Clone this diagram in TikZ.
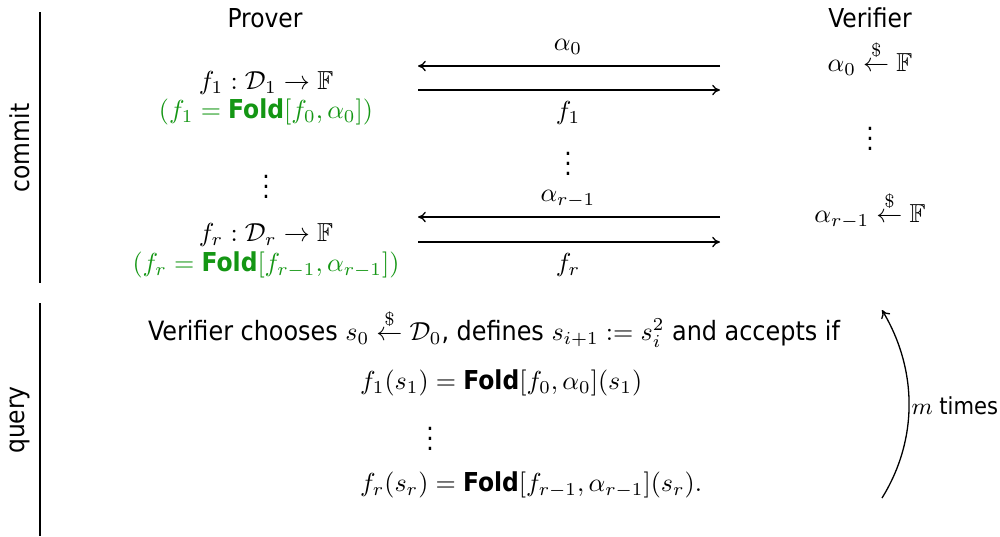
\documentclass[tikz,border=0pt]{standalone}
\usepackage{amsmath,amssymb}
\usepackage[no-math]{fontspec}
\setmainfont{DejaVu Sans Condensed}[BoldFont={DejaVu Sans Condensed Bold}]
\usetikzlibrary{arrows.meta}
\definecolor{foldgreen}{RGB}{20,150,20}
\newcommand{\Fold}{\textbf{Fold}}
\newcommand{\sample}{\overset{\$}{\leftarrow}}
\tikzset{
  lbl/.style={inner sep=1pt, font=\fontsize{10}{12}\selectfont},
  msg/.style={line width=0.5pt, -{To[length=3pt,width=4pt]}},
  rule/.style={line width=0.5pt},
  green/.style={lbl, text=foldgreen}
}
\begin{document}
\begin{tikzpicture}[x=0.384pt,y=-0.384pt]
\useasboundingbox (0,0) rectangle (1000,536);
% section rules
\coordinate (c1) at (40,12); \coordinate (c2) at (40,283);
\coordinate (q1) at (40,303); \coordinate (q2) at (40,536);
\draw[rule] (c1) -- (c2);
\draw[rule] (q1) -- (q2);
\node[lbl, rotate=90] (commit) at (20,148) {commit};
\node[lbl, rotate=90] (query) at (20,420) {query};
% headers
\node[lbl] (prover) at (265,18) {Prover};
\node[lbl] (verifier) at (870,18) {Verifier};
% prover side
\node[lbl] (p1) at (266,83) {$f_1 : \mathcal{D}_1 \to \mathbb{F}$};
\node[green] (p1g) at (266,112) {$(f_1 = \text{\Fold}[f_0,\alpha_0])$};
\node[lbl] (pdots) at (266,179) {$\vdots$};
\node[lbl] (pr) at (266,235) {$f_r : \mathcal{D}_r \to \mathbb{F}$};
\node[green] (prg) at (266,265) {$(f_r = \text{\Fold}[f_{r-1},\alpha_{r-1}])$};
% messages
\coordinate (a0L) at (418,66); \coordinate (a0R) at (720,66);
\coordinate (f1L) at (418,90); \coordinate (f1R) at (720,90);
\coordinate (arL) at (418,217); \coordinate (arR) at (720,217);
\coordinate (frL) at (418,242); \coordinate (frR) at (720,242);
\draw[msg] (a0R) -- (a0L);
\draw[msg] (f1L) -- (f1R);
\draw[msg] (arR) -- (arL);
\draw[msg] (frL) -- (frR);
\node[lbl] (ma0) at (568,47) {$\alpha_0$};
\node[lbl] (mf1) at (568,113) {$f_1$};
\node[lbl] (mdots) at (568,156) {$\vdots$};
\node[lbl] (mar) at (568,199) {$\alpha_{r-1}$};
\node[lbl] (mfr) at (568,265) {$f_r$};
% verifier side
\node[lbl] (v0) at (870,58) {$\alpha_0 \sample \mathbb{F}$};
\node[lbl] (vdots) at (870,131) {$\vdots$};
\node[lbl] (vr) at (870,210) {$\alpha_{r-1} \sample \mathbb{F}$};
% query
\node[lbl] (qtext) at (494,328) {\fontsize{10.2}{12}\selectfont Verifier chooses $s_0 \sample \mathcal{D}_0$, defines $s_{i+1} := s_i^2$ and accepts if};
\node[lbl, anchor=west] (q1) at (357,383) {$f_1(s_1) = \text{\Fold}[f_0,\alpha_0](s_1)$};
\node[lbl] (qdots) at (430,431) {$\vdots$};
\node[lbl, anchor=west] (qr) at (357,485) {$f_r(s_r) = \text{\Fold}[f_{r-1},\alpha_{r-1}](s_r).$};
% repetition arrow
\coordinate (rb) at (882,498); \coordinate (rt) at (882,310);
\draw[msg] (rb) .. controls (918,440) and (918,370) .. (rt);
\node[lbl, anchor=west, inner sep=0pt, font=\fontsize{9}{11}\selectfont] (mt) at (911,406) {$m$ times};
\end{tikzpicture}
\end{document}
